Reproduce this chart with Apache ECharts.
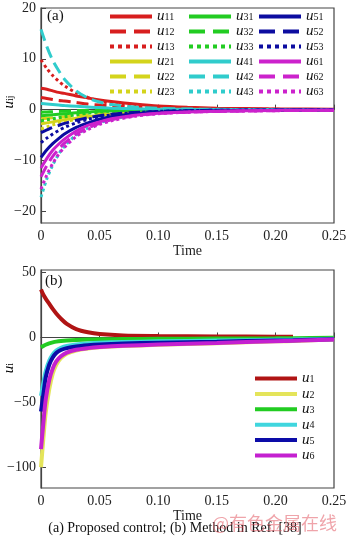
<!DOCTYPE html>
<html><head><meta charset="utf-8">
<script src="https://cdn.jsdelivr.net/npm/echarts@6/dist/echarts.min.js"></script>
<style>html,body{margin:0;padding:0;background:#fff}#c{width:350px;height:542px}</style>
</head><body><div id="c"></div>
<script>
// ---- Panel (a) data ----
const timeA = [0, 0.005, 0.01, 0.015, 0.02, 0.03, 0.04, 0.05, 0.06, 0.08, 0.1, 0.125, 0.15, 0.2, 0.21, 0.25];
const u11 = [4.2, 4.0, 3.7, 3.4, 3.2, 2.7, 2.3, 1.9, 1.6, 1.1, 0.7, 0.45, 0.3, 0.15, 0.12, 0.1];
const u12 = [2.4, 2.2, 2.0, 1.8, 1.7, 1.4, 1.1, 0.9, 0.7, 0.45, 0.3, 0.2, 0.12, 0.06, 0.05, 0.03];
const u13 = [9.8, 8.1, 6.7, 5.6, 4.7, 3.3, 2.4, 1.7, 1.2, 0.7, 0.4, 0.25, 0.15, 0.06, 0.05, 0.03];
const u21 = [-2.8, -2.6, -2.4, -2.2, -2.0, -1.7, -1.4, -1.1, -0.9, -0.6, -0.4, -0.25, -0.15, -0.08, -0.07, null];
const u22 = [-1.8, -1.7, -1.6, -1.5, -1.4, -1.2, -1.0, -0.8, -0.65, -0.45, -0.3, -0.2, -0.12, -0.06, -0.05, null];
const u23 = [-3.8, -3.4, -3.0, -2.7, -2.4, -1.9, -1.5, -1.2, -0.95, -0.6, -0.4, -0.25, -0.15, -0.07, -0.06, null];
const u31 = [-1.2, -1.1, -1.0, -0.9, -0.8, -0.6, -0.45, -0.3, -0.2, -0.1, -0.05, 0, 0, 0, 0, 0];
const u32 = [-0.5, -0.45, -0.4, -0.35, -0.3, -0.2, -0.1, -0.05, 0, 0.05, 0.05, 0.03, 0.02, 0.01, 0.01, 0];
const u33 = [-2.2, -2.0, -1.8, -1.6, -1.4, -1.0, -0.7, -0.45, -0.3, -0.1, 0, 0.02, 0.02, 0.01, 0.01, 0];
const u41 = [1.2, 1.1, 1.0, 0.9, 0.8, 0.65, 0.5, 0.4, 0.3, 0.2, 0.1, 0.06, 0.04, 0.02, 0.02, 0.01];
const u42 = [15.8, 12.4, 9.7, 7.7, 6.0, 3.7, 2.3, 1.5, 1.0, 0.5, 0.25, 0.12, 0.06, 0.02, 0.02, 0];
const u43 = [-17.2, -13.6, -10.9, -8.8, -7.2, -5.0, -3.6, -2.6, -1.9, -1.1, -0.6, -0.35, -0.2, -0.08, -0.06, -0.03];
const u51 = [-9.4, -7.9, -6.7, -5.7, -4.8, -3.5, -2.6, -1.9, -1.4, -0.8, -0.5, -0.3, -0.2, -0.1, -0.08, -0.05];
const u52 = [-4.5, -4.0, -3.5, -3.1, -2.7, -2.1, -1.6, -1.2, -0.9, -0.55, -0.35, -0.2, -0.12, -0.06, -0.05, -0.03];
const u53 = [-6.5, -5.6, -4.8, -4.1, -3.5, -2.6, -1.9, -1.4, -1.05, -0.6, -0.35, -0.2, -0.12, -0.06, -0.05, -0.03];
const u61 = [-11.5, -9.6, -8.0, -6.8, -5.8, -4.2, -3.1, -2.4, -1.8, -1.1, -0.7, -0.45, -0.3, -0.15, -0.13, -0.1];
const u62 = [-13.2, -11.0, -9.2, -7.8, -6.6, -4.8, -3.6, -2.7, -2.0, -1.2, -0.75, -0.5, -0.35, -0.2, -0.18, -0.12];
const u63 = [-15.6, -12.8, -10.6, -8.8, -7.4, -5.3, -3.9, -2.9, -2.2, -1.3, -0.8, -0.5, -0.35, -0.2, -0.18, -0.12];

// ---- Panel (b) data ----
const timeB = [0, 0.002, 0.004, 0.007, 0.01, 0.013, 0.017, 0.022, 0.03, 0.04, 0.05, 0.07, 0.1, 0.15, 0.2, 0.215, 0.25];
const u1 = [37, 33, 30, 26, 22, 18.5, 14.5, 10.5, 6.5, 4.0, 2.6, 1.5, 1.1, 0.8, 0.6, 0.55, null];
const u2 = [-100, -78, -58, -40, -28, -21, -16, -12.5, -10, -8.5, -7.6, -6.6, -5.7, -4.4, -3.0, -2.7, -1.5];
const u3 = [-7.6, -6.5, -5.6, -4.6, -3.8, -3.2, -2.7, -2.3, -1.9, -1.6, -1.4, -1.2, -1.0, -0.8, -0.6, -0.5, -0.3];
const u4 = [-45, -35, -26, -18, -13, -10, -8, -6.6, -5.4, -4.6, -4.1, -3.5, -3.0, -2.4, -1.8, -1.6, -1.0];
const u5 = [-57, -44, -31, -21, -15.5, -12, -9.7, -8.2, -6.9, -6.0, -5.4, -4.7, -4.0, -3.2, -2.4, -2.2, -1.3];
const u6 = [-86, -66, -48, -33, -24, -18.5, -14.5, -11.7, -9.5, -8.2, -7.4, -6.4, -5.5, -4.2, -2.9, -2.6, -1.5];

// ---- Tick labels ----
const xTicks = [0, 0.05, 0.10, 0.15, 0.20, 0.25];
const yTicksA = [-20, -10, 0, 10, 20];
const yTicksB = [-100, -50, 0, 50];

const seriesA = [
  ['u11', u11, '#d81e1e', 'solid'], ['u12', u12, '#d81e1e', 'dashed'], ['u13', u13, '#d81e1e', 'dotted'],
  ['u21', u21, '#d4d41c', 'solid'], ['u22', u22, '#d4d41c', 'dashed'], ['u23', u23, '#d4d41c', 'dotted'],
  ['u31', u31, '#22cc22', 'solid'], ['u32', u32, '#22cc22', 'dashed'], ['u33', u33, '#22cc22', 'dotted'],
  ['u41', u41, '#30cccc', 'solid'], ['u42', u42, '#30cccc', 'dashed'], ['u43', u43, '#30cccc', 'dotted'],
  ['u51', u51, '#0c0ca0', 'solid'], ['u52', u52, '#0c0ca0', 'dashed'], ['u53', u53, '#0c0ca0', 'dotted'],
  ['u61', u61, '#cc22cc', 'solid'], ['u62', u62, '#cc22cc', 'dashed'], ['u63', u63, '#cc22cc', 'dotted']
];
const seriesB = [
  ['u1', u1, '#b01414'], ['u2', u2, '#e4e45a'], ['u3', u3, '#22cc22'],
  ['u4', u4, '#40d6de'], ['u5', u5, '#0c0ca8'], ['u6', u6, '#c420d0']
];

const serif = 'Liberation Serif';
const rich = {
  u: {fontFamily: serif, fontStyle: 'italic', fontSize: 15, color: '#111', lineHeight: 12},
  s: {fontFamily: serif, fontSize: 10, color: '#111', lineHeight: 2, verticalAlign: 'bottom'}
};
const fmtName = n => '{u|u}{s|' + n.slice(1) + '}';
const minus = v => String(v).replace('-', '\u2212');

function xAxis(idx) {
  return {
    type: 'value', gridIndex: idx, min: 0, max: 0.25,
    name: 'Time', nameLocation: 'middle', nameGap: 20,
    nameTextStyle: {fontFamily: serif, fontSize: 14, color: '#222'},
    axisLine: {show: true, lineStyle: {color: '#444', width: 1.2}},
    axisTick: {show: true, inside: true, length: 5, customValues: xTicks, lineStyle: {color: '#444'}},
    axisLabel: {customValues: xTicks, fontFamily: serif, fontSize: 14, color: '#222', margin: 6,
      formatter: v => v === 0 ? '0' : v.toFixed(2)},
    splitLine: {show: false}
  };
}
function yAxis(idx, min, max, ticks) {
  return {
    type: 'value', gridIndex: idx, min: min, max: max,
    axisLine: {show: true, lineStyle: {color: '#444', width: 1.2}},
    axisTick: {show: true, inside: true, length: 5, customValues: ticks, lineStyle: {color: '#444'}},
    axisLabel: {customValues: ticks, fontFamily: serif, fontSize: 14, color: '#222', margin: 5, formatter: minus},
    splitLine: {show: false}
  };
}

const series = [];
seriesA.forEach(([n, d, c, t]) => series.push({
  name: n, type: 'line', xAxisIndex: 0, yAxisIndex: 0, showSymbol: false, symbol: 'none', smooth: 0.3,
  data: timeA.map((x, i) => [x, d[i]]),
  lineStyle: {color: c, width: 3, type: t}, itemStyle: {color: c}
}));
seriesB.forEach(([n, d, c]) => series.push({
  name: n, type: 'line', xAxisIndex: 1, yAxisIndex: 1, showSymbol: false, symbol: 'none', smooth: 0.3,
  data: timeB.map((x, i) => [x, d[i]]),
  lineStyle: {color: c, width: 4}, itemStyle: {color: c}
}));

function legendCol(names, left, top, w, gap) {
  return {
    data: names, left: left, top: top, orient: 'vertical', itemWidth: w, itemHeight: 10, itemGap: gap,
    padding: 0, selectedMode: false, itemStyle: {opacity: 0}, lineStyle: {width: 4},
    formatter: fmtName, textStyle: {rich: rich}
  };
}

const chart = echarts.init(document.getElementById('c'), null, {renderer: 'canvas'});
chart.setOption({
  animation: false,
  backgroundColor: '#fff',
  grid: [
    {left: 41, top: 8, width: 293, height: 215, show: true, borderColor: '#444', borderWidth: 1.2, backgroundColor: 'transparent', containLabel: false, outerBoundsMode: 'none'},
    {left: 41, top: 270, width: 293, height: 218, show: true, borderColor: '#444', borderWidth: 1.2, backgroundColor: 'transparent', containLabel: false, outerBoundsMode: 'none'}
  ],
  xAxis: [xAxis(0), xAxis(1)],
  yAxis: [yAxis(0, -22.3, 20, yTicksA), yAxis(1, -116, 52, yTicksB)],
  legend: [
    legendCol(['u11', 'u12', 'u13', 'u21', 'u22', 'u23'], 108, 9, 42, 0),
    legendCol(['u31', 'u32', 'u33', 'u41', 'u42', 'u43'], 187, 9, 42, 0),
    legendCol(['u51', 'u52', 'u53', 'u61', 'u62', 'u63'], 257, 9, 42, 0),
    legendCol(['u1', 'u2', 'u3', 'u4', 'u5', 'u6'], 253, 371, 42, 0.4)
  ],
  graphic: [
    {type: 'text', x: 47, y: 9, style: {text: '(a)', font: '15px "Liberation Serif"', fill: '#111'}},
    {type: 'text', x: 45, y: 274, style: {text: '(b)', font: '15px "Liberation Serif"', fill: '#111'}},
    {type: 'text', x: 9, y: 102, rotation: Math.PI / 2, style: {text: '{u|u}{s|ij}', rich: rich, align: 'center', verticalAlign: 'middle'}},
    {type: 'text', x: 9, y: 368, rotation: Math.PI / 2, style: {text: '{u|u}{s|i}', rich: rich, align: 'center', verticalAlign: 'middle'}},
    {type: 'text', x: 175, y: 521, style: {text: '(a) Proposed control; (b) Method in Ref. [38]', font: '14px "Liberation Serif"', fill: '#111', align: 'center'}},
    {type: 'text', x: 212, y: 514, style: {text: '@有色金属在线', font: '18px "Noto Sans CJK SC"', fill: 'rgba(225,90,100,0.55)'}}
  ],
  series: series
});
</script></body></html>
